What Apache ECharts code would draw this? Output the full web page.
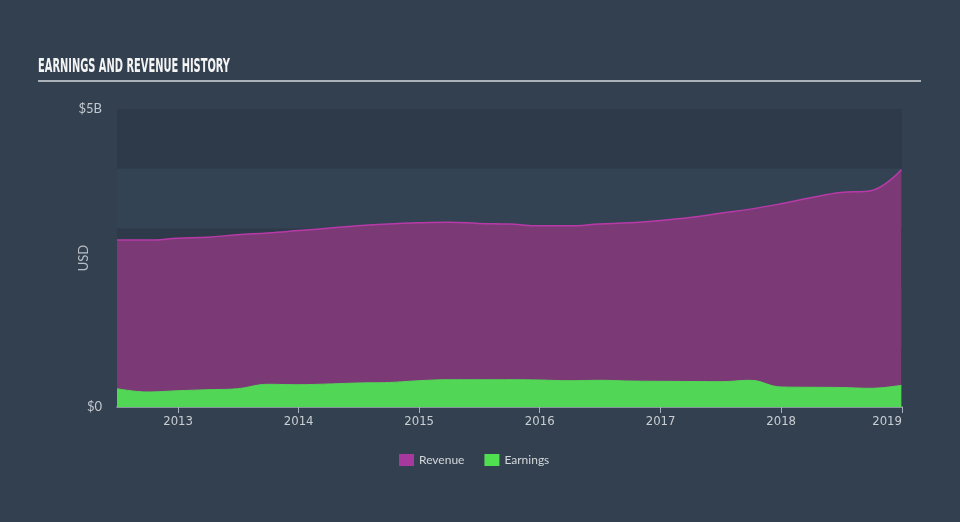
<!DOCTYPE html>
<html>
<head>
<meta charset="utf-8">
<script src="https://cdn.jsdelivr.net/npm/echarts@6/dist/echarts.min.js"></script>
<style>
html,body{margin:0;padding:0;background:#334050;}
#c{width:960px;height:522px;}
</style>
</head>
<body>
<div id="c"></div>
<script>
var dates = ['2012-06-30','2012-09-30','2012-12-31','2013-03-31','2013-06-30','2013-09-30','2013-12-31',
  '2014-03-31','2014-06-30','2014-09-30','2014-12-31','2015-03-31','2015-06-30','2015-09-30','2015-12-31',
  '2016-03-31','2016-06-30','2016-09-30','2016-12-31','2017-03-31','2017-06-30','2017-09-30','2017-12-31',
  '2018-03-31','2018-06-30','2018-09-30','2018-12-31'];
var revenue = [2.80,2.80,2.83,2.85,2.89,2.92,2.96,3.00,3.04,3.07,3.09,3.10,3.08,3.07,3.04,3.04,3.07,3.09,3.13,3.18,3.25,3.32,3.41,3.51,3.60,3.63,3.98];
var earnings = [0.307,0.252,0.273,0.290,0.307,0.381,0.374,0.386,0.403,0.411,0.441,0.458,0.458,0.458,0.453,0.441,0.448,0.436,0.431,0.428,0.425,0.448,0.336,0.331,0.327,0.314,0.364];
var yTickLabels = {0:'$0', 5:'$5B'};
var titleText = 'EARNINGS AND REVENUE HISTORY';

function pairs(vals){ return dates.map(function(d,i){ return [d, vals[i]*1e9]; }); }

var titleFont = 'bold 20px "DejaVu Sans Condensed", "Liberation Sans Narrow", sans-serif';
var cv = document.createElement('canvas').getContext('2d');
cv.font = titleFont;
var tw = cv.measureText(titleText).width;
var sx = 192 / tw;

var chart = echarts.init(document.getElementById('c'));
var DAY = 24*3600*1000;
chart.setOption({
  backgroundColor: '#334050',
  animation: false,
  graphic: [
    {type:'text', left: 38, top: 57, scaleX: sx, originX: 0,
      style:{text: titleText, font: titleFont, fill:'#f4f4f4'}},
    {type:'line', shape:{x1:38,y1:81,x2:921,y2:81}, style:{stroke:'#aab1b9', lineWidth:2}}
  ],
  grid: {left:117, right:58, top:109, bottom:115},
  legend: {
    left: 394, top: 449, itemWidth: 15, itemHeight: 12, itemGap: 20, icon: 'rect',
    textStyle: {color:'#d3d7db', fontSize: 12, fontFamily: 'Lato, sans-serif'},
    data: [{name:'Revenue', itemStyle:{color:'#a7389e'}}, {name:'Earnings', itemStyle:{color:'#4fdf50'}}]
  },
  xAxis: {
    type: 'time',
    min: '2012-06-30', max: '2019-01-02',
    minInterval: 365*DAY, maxInterval: 366*DAY,
    axisLine: {show:true, lineStyle:{color:'#a7b0ba', width:1.5}},
    axisTick: {show:true, length:6, lineStyle:{color:'#a7b0ba'}},
    splitLine: {show:false},
    axisLabel: {color:'#c9ced3', fontSize: 13, fontFamily:'"DejaVu Sans Condensed", "Liberation Sans Narrow", sans-serif',
      formatter: '{yyyy}', showMaxLabel: true, alignMaxLabel: 'right', margin: 8, hideOverlap: false}
  },
  yAxis: {
    type: 'value', min: 0, max: 5e9, interval: 1e9,
    name: 'USD', nameLocation: 'middle', nameGap: 27, nameRotate: 90, nameMoveOverlap: false,
    nameTextStyle: {color:'#b7bdc4', fontSize: 13, fontFamily:'Lato, sans-serif'},
    axisLine: {show:false}, axisTick: {show:false},
    splitLine: {show:false},
    splitArea: {show:true, areaStyle:{color:['#2e3a49','#344353']}},
    axisLabel: {color:'#c3c8ce', fontSize: 13, margin: 15, fontFamily:'Lato, sans-serif', padding:[0,0,5,0],
      formatter: function(v){ var k = Math.round(v/1e9); return yTickLabels[k] !== undefined ? yTickLabels[k] : ''; }}
  },
  series: [
    {name:'Revenue', type:'line', data: pairs(revenue), smooth: 0.4, symbol:'none',
      lineStyle:{color:'#b83aa9', width:1.5}, itemStyle:{color:'#a7389e'},
      areaStyle:{color:'#7b3a76', opacity:1}},
    {name:'Earnings', type:'line', data: pairs(earnings), smooth: 0.4, symbol:'none',
      lineStyle:{color:'#52d656', width:1}, itemStyle:{color:'#4fdf50'},
      areaStyle:{color:'#52d656', opacity:1}}
  ]
});
</script>
</body>
</html>
